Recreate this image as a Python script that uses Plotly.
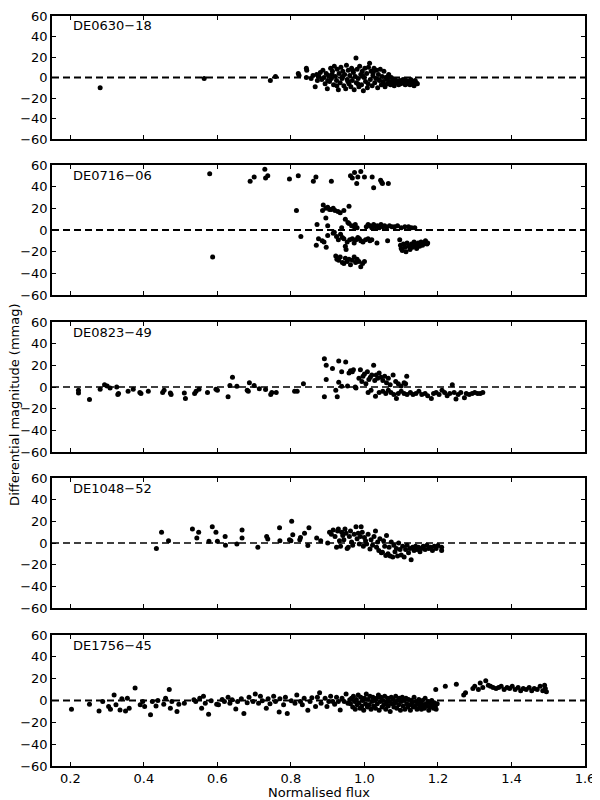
import plotly.graph_objs as go
from plotly.subplots import make_subplots

# (normalised flux, differential magnitude in mmag)
de0630_18 = [
    (0.281, -10), (0.564, -1), (0.744, -3), (0.758, 1), (0.820, 4), (0.822, 2), (0.842, 9), (0.843, 7), (0.842, 0),
    (0.855, -1), (0.860, 2), (0.866, -9), (0.870, 3), (0.872, -3), (0.876, 1), (0.880, 5), (0.884, -2), (0.887, 7),
    (0.890, 0), (0.893, -6), (0.896, 4), (0.899, -11), (0.902, 2), (0.905, -4), (0.908, 9), (0.910, -1), (0.913, 6),
    (0.916, -7), (0.918, 11), (0.921, 1), (0.924, -3), (0.926, 8), (0.929, -12), (0.931, 4), (0.934, -5), (0.936, 10),
    (0.939, -1), (0.941, 6), (0.944, -8), (0.946, 3), (0.949, -11), (0.951, 12), (0.953, -2), (0.956, 7), (0.958, -6),
    (0.960, 2), (0.963, -9), (0.965, 9), (0.967, -3), (0.970, 5), (0.972, -12), (0.975, 1), (0.977, 19), (0.978, -5),
    (0.980, 8), (0.983, -1), (0.985, -9), (0.987, 11), (0.990, 3), (0.992, -7), (0.994, 6), (0.997, -13), (0.999, 0),
    (1.001, 9), (1.003, -4), (1.006, 4), (1.008, -10), (1.011, 10), (1.014, 14), (1.016, -2), (1.018, 6), (1.021, -8),
    (1.023, 2), (1.026, 9), (1.028, -5), (1.031, -1), (1.033, 7), (1.036, -10), (1.038, 3), (1.041, -3), (1.043, 8),
    (1.046, -7), (1.048, 1), (1.051, -4), (1.053, 6), (1.056, -9), (1.058, 0), (1.061, -2), (1.063, -6), (1.066, 3),
    (1.068, -4), (1.071, -7), (1.073, 0), (1.076, -5), (1.078, -3), (1.081, -8), (1.084, -2), (1.087, -5), (1.090, -4),
    (1.093, -7), (1.096, -3), (1.099, -6), (1.102, -4), (1.105, -2), (1.108, -5), (1.111, -7), (1.114, -3), (1.117, -6),
    (1.120, -4), (1.123, -5), (1.126, -2), (1.129, -6), (1.132, -4), (1.135, -8), (1.138, -3), (1.141, -5), (1.144, -6),
    (0.900, -3), (0.912, 3), (0.925, -8), (0.940, 1), (0.955, -4), (0.968, 7), (0.982, -6), (0.995, 2), (1.010, -6),
    (1.024, 5), (1.039, -2), (1.052, -6), (1.064, 1), (1.079, -6), (1.094, -5), (1.109, -3), (1.124, -7), (1.139, -6),
]

de0716_06 = [
    (0.579, 52), (0.689, 45), (0.700, 49), (0.729, 56), (0.731, 48), (0.737, 50), (0.796, 47), (0.820, 50), (0.861, 45),
    (0.868, 49), (0.910, 45), (0.962, 50), (0.967, 48), (0.973, 53), (0.979, 43), (0.982, 49), (0.990, 54), (1.000, 49),
    (1.021, 49), (1.025, 39), (1.044, 46), (1.047, 44), (1.049, 43), (1.065, 43), (0.587, -25),
    (0.815, 18), (0.886, 18), (0.888, 23), (0.895, 20), (0.900, 21), (0.905, 19), (0.910, 19), (0.915, 20), (0.920, 18),
    (0.928, 17), (0.934, 16), (0.944, 18), (0.958, 22), (0.895, 11), (0.871, 5), (0.900, 4), (0.938, 2), (0.948, 10),
    (0.955, 7), (0.958, 6), (0.965, 4), (0.972, 3), (0.975, 5), (0.980, 2),
    (1.005, 3), (1.010, 5), (1.015, 4), (1.020, 2), (1.025, 5), (1.030, 3), (1.035, 4), (1.040, 2), (1.045, 5),
    (1.050, 3), (1.055, 4), (1.060, 2), (1.068, 4), (1.075, 3), (1.082, 3), (1.090, 4), (1.100, 2), (1.110, 3),
    (1.120, 3), (1.128, 2), (1.137, 2),
    (0.827, -6), (0.875, -8), (0.869, -14), (0.896, -16), (0.885, -10), (0.890, -11), (0.900, -5), (0.915, -3),
    (0.918, -2), (0.924, -6), (0.929, -9), (0.935, -4), (0.940, -7), (0.944, -8), (0.948, -15), (0.950, -18),
    (0.953, -11), (0.960, -9), (0.967, -8), (0.972, -12), (0.977, -9), (0.982, -7), (0.986, -8), (0.990, -10),
    (0.996, -11), (1.003, -9), (1.010, -8), (1.015, -10), (1.020, -9), (1.034, -12), (1.063, -10),
    (1.096, -9), (1.098, -14), (1.100, -17), (1.103, -19), (1.106, -13), (1.110, -16), (1.113, -20), (1.116, -12),
    (1.120, -15), (1.124, -18), (1.128, -13), (1.131, -16), (1.135, -11), (1.139, -14), (1.142, -17), (1.146, -12),
    (1.150, -15), (1.154, -11), (1.158, -14), (1.162, -12), (1.166, -10), (1.170, -13), (1.172, -12),
    (0.922, -24), (0.925, -27), (0.930, -28), (0.934, -25), (0.940, -30), (0.944, -31), (0.948, -26), (0.953, -29),
    (0.958, -27), (0.962, -32), (0.967, -28), (0.972, -25), (0.976, -30), (0.980, -27), (0.985, -29), (0.990, -34),
    (0.995, -31), (1.000, -29),
]

de0823_49 = [
    (0.222, -5.5), (0.222, -3), (0.252, -11.5), (0.281, -2), (0.293, 2), (0.300, 1), (0.308, -1), (0.326, 0),
    (0.329, -7), (0.331, -6), (0.357, -4), (0.371, -2), (0.389, -5), (0.392, -6), (0.412, -4), (0.451, -5),
    (0.455, -3), (0.472, -5.5), (0.474, -7), (0.510, -5.5), (0.513, -10.6), (0.538, -6), (0.542, -4), (0.550, -2),
    (0.573, -5), (0.596, -2), (0.600, -3), (0.629, -9), (0.634, 1.5), (0.641, 9), (0.653, 0.6), (0.681, -3),
    (0.684, -4), (0.687, 4), (0.700, 1.5), (0.714, -1.5), (0.731, -2.4), (0.745, -7), (0.748, -5), (0.760, -5),
    (0.810, -4), (0.817, -4), (0.834, 3), (0.891, 26), (0.896, 20), (0.896, 7), (0.891, -9), (0.913, 17), (0.922, -3),
    (0.926, -9), (0.930, 24), (0.930, 4.5), (0.938, 14), (0.949, 23), (0.938, 0.6), (0.954, 1), (0.958, 13),
    (0.962, 15), (0.967, 14), (0.970, 16), (0.975, 0), (0.977, -1), (0.985, 8), (0.989, 16), (0.993, 5), (0.996, 10),
    (1.000, 12), (1.004, 3), (1.008, 14), (1.012, 7), (1.016, 9), (1.020, 11), (1.025, 20), (1.028, 6), (1.032, 11),
    (1.036, 8), (1.040, 13), (1.045, 9), (1.050, 6), (1.055, 10), (1.060, 4), (1.065, 8), (1.070, 2), (1.078, 11),
    (1.085, 5), (1.092, 3), (1.100, 1), (1.108, 4), (1.115, 10), (1.112, 3),
    (1.010, -5), (1.018, -3), (1.030, -8.5), (1.040, -5), (1.050, -4), (1.058, -6), (1.065, -3), (1.072, -5),
    (1.080, -7), (1.087, -10.6), (1.092, -6), (1.100, -4), (1.108, -6), (1.116, -7), (1.125, -5), (1.132, -7),
    (1.140, -6), (1.148, -4), (1.156, -7), (1.165, -6), (1.172, -8), (1.182, -10.6), (1.188, -6), (1.195, -5),
    (1.203, -7), (1.211, -3), (1.218, -5), (1.225, -8), (1.232, -6), (1.239, 2), (1.244, -5), (1.249, -11),
    (1.255, -7), (1.262, -5), (1.272, -10), (1.277, -6), (1.285, -7), (1.293, -6), (1.300, -5), (1.308, -6),
    (1.315, -6), (1.322, -5),
]

de1048_52 = [
    (0.434, -5), (0.448, 10), (0.467, 2), (0.532, 13), (0.544, 4.5), (0.549, 10), (0.577, 1.5), (0.586, 15),
    (0.596, 10), (0.600, 1.5), (0.621, 6), (0.622, -2), (0.653, -1), (0.667, 12), (0.667, 4.5), (0.710, -4),
    (0.734, 6), (0.737, 3.6), (0.769, 14), (0.770, 2), (0.796, 3), (0.800, 2), (0.802, 20), (0.805, 7.5), (0.824, 3),
    (0.826, 5), (0.837, 9), (0.846, -2.4), (0.849, 14), (0.870, 4.5), (0.881, 2), (0.900, 0),
    (0.905, 10), (0.910, 8), (0.915, 12), (0.920, 6), (0.924, -4), (0.927, 11), (0.929, 13), (0.932, 2), (0.935, -3),
    (0.938, 10), (0.941, 7), (0.944, 3), (0.947, 13), (0.950, 9), (0.953, -5), (0.956, -4), (0.959, 6), (0.962, 11),
    (0.965, 1), (0.968, -2), (0.972, 8), (0.977, 15), (0.980, 4), (0.983, 9), (0.986, -1), (0.989, 6), (0.991, 15),
    (0.994, 10), (0.997, -3), (1.000, 5), (1.003, 2), (1.006, -1), (1.010, 8), (1.015, -5.5), (1.018, 3),
    (1.022, -2), (1.026, 6), (1.030, 11), (1.033, -4), (1.036, 1), (1.039, -7), (1.042, 4), (1.046, -9),
    (1.049, -8.5), (1.052, 2), (1.055, -3), (1.058, -11.5), (1.060, 7), (1.064, -10), (1.067, -4), (1.070, -12),
    (1.073, 1), (1.077, -13), (1.080, -2), (1.083, -8), (1.087, -5), (1.090, -12), (1.093, 0), (1.097, -6),
    (1.100, -11), (1.104, -3), (1.108, -13), (1.112, -6), (1.116, -2), (1.120, -9), (1.124, -5), (1.127, -15.5),
    (1.131, -4), (1.135, -7), (1.139, -3), (1.143, -6), (1.147, -4), (1.151, -8), (1.155, -5), (1.160, -3),
    (1.165, -6), (1.170, -2), (1.175, -5), (1.180, -4), (1.185, -7), (1.190, -3), (1.195, -5), (1.200, -2.4),
    (1.210, -7), (1.210, -4),
]

de1756_45 = [
    (0.203, -8), (0.252, -3.4), (0.278, -9.6), (0.288, -1), (0.304, -5.6), (0.309, -8), (0.319, 5), (0.324, -4),
    (0.335, -8.7), (0.340, 1.5), (0.350, -9.6), (0.355, 2), (0.360, -7), (0.376, 11.5), (0.390, -4), (0.397, -1),
    (0.402, -5.6), (0.418, -13), (0.423, -1), (0.433, -5), (0.438, 0), (0.454, -3.4), (0.459, 2), (0.469, 10),
    (0.472, -7), (0.476, -1), (0.490, -10), (0.495, -3.4), (0.510, -2.5), (0.536, 0.6), (0.541, -1), (0.552, 2),
    (0.557, -7), (0.562, 4), (0.567, -2.5), (0.576, -12.7), (0.583, -0.3), (0.598, -3.4), (0.603, -4), (0.613, 1),
    (0.619, -1), (0.629, 3), (0.634, -2.5), (0.640, 0.6), (0.650, -7.7), (0.655, -1), (0.665, 1.5), (0.672, -11.8),
    (0.681, -2), (0.686, 3), (0.697, -1), (0.703, 6), (0.712, -2.5), (0.717, 4), (0.722, -0.3), (0.733, -7),
    (0.738, 1.5), (0.743, -3), (0.753, 4), (0.758, -1), (0.768, -10.5), (0.770, 1.5), (0.780, -4), (0.785, 3),
    (0.790, -11.8), (0.801, -0.3), (0.811, -2.5), (0.816, 5), (0.826, -1), (0.831, -4), (0.836, 2), (0.846, -9),
    (0.852, -1), (0.857, 2.5), (0.867, -5.6), (0.872, 3), (0.878, 7), (0.882, -2.5), (0.893, 2), (0.898, -5.6),
    (0.903, -0.9), (0.908, 4), (0.914, -1), (0.919, -3.4), (0.924, 3), (0.929, -1), (0.934, -8.7), (0.939, 2),
    (0.945, -1), (0.950, 6), (0.955, -2.5), (0.960, 0.6),
    (0.962, -3), (0.965, 2), (0.968, -6), (0.970, 4), (0.973, -1), (0.975, -8), (0.978, 1), (0.980, -4), (0.983, 5),
    (0.985, -2), (0.988, -7), (0.990, 3), (0.993, -5), (0.995, 0), (0.998, -9), (1.000, 2), (1.003, -3), (1.005, 6),
    (1.008, -6), (1.010, 1), (1.013, -4), (1.015, 4), (1.018, -8), (1.020, -1), (1.023, 3), (1.025, -5), (1.028, 0),
    (1.030, -7), (1.033, 2), (1.035, -3), (1.038, 5), (1.040, -9), (1.043, -1), (1.045, 3), (1.048, -6), (1.050, 0),
    (1.053, -4), (1.055, 4), (1.058, -8), (1.060, -2), (1.063, 2), (1.065, -5), (1.068, -1), (1.070, -10),
    (1.073, 3), (1.075, -3), (1.078, 1), (1.080, -6), (1.083, -2), (1.085, 4), (1.088, -7), (1.090, 0), (1.093, -4),
    (1.095, 2), (1.098, -9), (1.100, -1), (1.103, 3), (1.105, -5), (1.108, 0), (1.110, -8), (1.113, 2), (1.115, -3),
    (1.118, -6), (1.120, 1), (1.123, -4), (1.125, -9), (1.128, 0), (1.130, -2), (1.133, -6), (1.135, 3), (1.138, -5),
    (1.140, -1), (1.143, -8), (1.145, -3), (1.148, 1), (1.150, -6), (1.153, -2), (1.155, -8), (1.158, 0),
    (1.160, -4), (1.163, -7), (1.165, 2), (1.168, -3), (1.170, -5), (1.173, -1), (1.175, -9), (1.178, -2),
    (1.180, -6), (1.183, 0), (1.185, -4), (1.188, -7), (1.190, -2), (1.193, -5), (1.195, -8), (1.198, -3),
    (1.194, 10), (1.220, 13), (1.250, 15), (1.270, 5), (1.275, 7), (1.295, 11), (1.300, 13), (1.310, 10),
    (1.315, 16), (1.322, 12), (1.330, 18), (1.337, 14), (1.343, 13), (1.350, 12), (1.358, 11), (1.365, 12),
    (1.372, 13), (1.380, 10), (1.388, 12), (1.395, 11), (1.402, 13), (1.410, 10), (1.418, 12), (1.425, 9),
    (1.432, 11), (1.440, 10), (1.448, 12), (1.455, 9), (1.462, 11), (1.470, 10), (1.478, 13), (1.485, 9),
    (1.490, 14), (1.492, 11), (1.495, 8),
]

star_names = ['DE0630\u221218', 'DE0716\u221206', 'DE0823\u221249', 'DE1048\u221252', 'DE1756\u221245']
star_data = [de0630_18, de0716_06, de0823_49, de1048_52, de1756_45]

x_ticks = [0.2, 0.4, 0.6, 0.8, 1.0, 1.2, 1.4, 1.6]
x_ticklabels = ['0.2', '0.4', '0.6', '0.8', '1.0', '1.2', '1.4', '1.6']
y_ticks = [-60, -40, -20, 0, 20, 40, 60]
y_ticklabels = ['\u221260', '\u221240', '\u221220', '0', '20', '40', '60']


def plot_data():
    fig = make_subplots(rows=5, cols=1, shared_xaxes=True)

    # panel edges in page pixels (the page body adds an 8px offset);
    # plot area runs from page y 8 to 766
    panel_tops = [16, 165, 322, 478, 635]
    panel_bottoms = [139, 295, 452, 608, 766]
    dash_widths = [2, 2, 1.5, 1.5, 2]
    font = dict(family='DejaVu Sans', size=13, color='black')

    for i, (name, pts) in enumerate(zip(star_names, star_data), start=1):
        flux, dmag = zip(*pts)
        fig.add_trace(
            go.Scatter(
                mode='markers',
                x=flux,
                y=dmag,
                marker=dict(color='black', size=5, line=dict(width=0)),
                showlegend=False
            ),
            row=i, col=1
        )
        fig.add_hline(y=0, line=dict(color='black', dash='7px,4px', width=dash_widths[i - 1]), row=i, col=1)

        sfx = '' if i == 1 else str(i)
        top = (766 - panel_tops[i - 1]) / 758
        bottom = (766 - panel_bottoms[i - 1]) / 758
        fig.layout['yaxis' + sfx].update(
            domain=[bottom, top], range=[-60, 60],
            tickvals=y_ticks, ticktext=y_ticklabels
        )
        fig.add_annotation(
            text=name, xref='x' + sfx + ' domain', yref='y' + sfx + ' domain',
            x=0.036, y=0.922, xanchor='left', yanchor='middle',
            showarrow=False, font=font
        )

    axis_style = dict(
        showline=True, linecolor='black', linewidth=1.5, mirror='ticks',
        ticks='inside', ticklen=4, tickwidth=1, tickcolor='black',
        showgrid=False, zeroline=False, tickfont=font, automargin=False
    )
    fig.update_xaxes(range=[0.15, 1.6], tickvals=x_ticks, ticktext=x_ticklabels, **axis_style)
    fig.update_yaxes(**axis_style)

    fig.add_annotation(
        text='Differential magnitude (mmag)', xref='paper', yref='paper',
        x=-0.07, y=0.476, textangle=-90, showarrow=False, font=font,
        xanchor='center', yanchor='middle'
    )
    fig.add_annotation(
        text='Normalised flux', xref='paper', yref='paper',
        x=0.5, y=-0.0355, showarrow=False, font=font,
        xanchor='center', yanchor='middle'
    )

    fig.update_layout(
        width=592,
        height=792,
        margin=dict(l=44, r=15, t=0, b=34),
        plot_bgcolor='white',
        paper_bgcolor='white',
        font=font
    )

    fig.write_html('out.html')


if __name__ == '__main__':
    plot_data()
